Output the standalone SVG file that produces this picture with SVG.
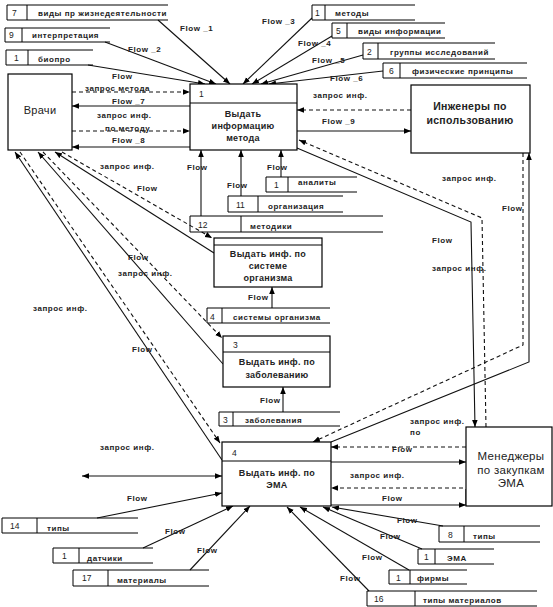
<svg xmlns="http://www.w3.org/2000/svg" width="553" height="607" viewBox="0 0 553 607">
<style>
.box{fill:#fff;stroke:#000;stroke-width:1.2}
.st{fill:none;stroke:#000;stroke-width:1}
.s{fill:none;stroke:#111;stroke-width:1.1}
.d{fill:none;stroke:#111;stroke-width:1.1;stroke-dasharray:4 3}
.t{font-family:"Liberation Sans",Arial,sans-serif;font-size:8px;font-weight:bold;fill:#222;letter-spacing:0.55px}
.n{font-family:"Liberation Sans",Arial,sans-serif;font-size:8.5px;fill:#222}
.p{font-family:"Liberation Sans",Arial,sans-serif;font-size:9px;font-weight:bold;fill:#222;text-anchor:middle;letter-spacing:0.3px}
.e{font-family:"Liberation Sans",Arial,sans-serif;font-size:10.5px;font-weight:bold;fill:#222;text-anchor:middle;letter-spacing:0.3px}
.m{font-family:"Liberation Sans",Arial,sans-serif;font-size:11.5px;fill:#222;text-anchor:middle;letter-spacing:0.3px}
</style>
<defs>
<marker id="a" viewBox="0 0 10 10" refX="10" refY="5" markerWidth="7" markerHeight="7" orient="auto-start-reverse" markerUnits="userSpaceOnUse"><path d="M0,1 L10,5 L0,9 z" fill="#000"/></marker>
</defs>
<rect width="553" height="607" fill="#fff"/>

<g id="connectors">
<line class="s" x1="88" y1="65" x2="205" y2="84" marker-end="url(#a)"/>
<line class="s" x1="105" y1="42" x2="216" y2="84" marker-end="url(#a)"/>
<line class="s" x1="158" y1="20" x2="230" y2="84" marker-end="url(#a)"/>
<line class="s" x1="312" y1="18" x2="243" y2="84" marker-end="url(#a)"/>
<line class="s" x1="332" y1="36" x2="252" y2="84" marker-end="url(#a)"/>
<line class="s" x1="363" y1="55" x2="261" y2="84" marker-end="url(#a)"/>
<line class="s" x1="383" y1="71" x2="269" y2="84" marker-end="url(#a)"/>
<line class="d" x1="72" y1="92" x2="190" y2="92" marker-end="url(#a)"/>
<line class="s" x1="190" y1="106" x2="72" y2="106" marker-end="url(#a)"/>
<line class="d" x1="72" y1="131" x2="190" y2="131" marker-end="url(#a)"/>
<line class="s" x1="190" y1="147" x2="72" y2="147" marker-end="url(#a)"/>
<line class="d" x1="411" y1="110" x2="297" y2="110" marker-end="url(#a)"/>
<line class="s" x1="297" y1="131" x2="411" y2="131" marker-end="url(#a)"/>
<line class="s" x1="201" y1="216" x2="201" y2="150" marker-end="url(#a)"/>
<line class="s" x1="241" y1="196" x2="241" y2="150" marker-end="url(#a)"/>
<line class="s" x1="281" y1="177" x2="281" y2="150" marker-end="url(#a)"/>
<polyline class="s" points="297,148 471,222 475,427" marker-end="url(#a)"/>
<polyline class="d" points="486,427 482,218 299,140" marker-end="url(#a)"/>
<polyline class="s" points="331,442 529,362 529,153" marker-end="url(#a)"/>
<polyline class="d" points="523,153 523,345 313,442" marker-end="url(#a)"/>
<line class="s" x1="272" y1="308" x2="272" y2="287" marker-end="url(#a)"/>
<line class="s" x1="283" y1="412" x2="283" y2="387" marker-end="url(#a)"/>
<line class="s" x1="214" y1="253" x2="55" y2="152" marker-end="url(#a)"/>
<line class="d" x1="62" y1="152" x2="212" y2="238" marker-end="url(#a)"/>
<line class="s" x1="223" y1="364" x2="38" y2="152" marker-end="url(#a)"/>
<line class="d" x1="43" y1="152" x2="222" y2="338" marker-end="url(#a)"/>
<line class="s" x1="222" y1="460" x2="15" y2="152" marker-end="url(#a)"/>
<line class="d" x1="20" y1="152" x2="220" y2="443" marker-end="url(#a)"/>
<line class="s" x1="82" y1="476" x2="222" y2="476" marker-start="url(#a)" marker-end="url(#a)"/>
<line class="d" x1="466" y1="447" x2="331" y2="447" marker-end="url(#a)"/>
<line class="s" x1="331" y1="462" x2="466" y2="462" marker-end="url(#a)"/>
<line class="d" x1="470" y1="488" x2="331" y2="488" marker-end="url(#a)"/>
<line class="s" x1="331" y1="505" x2="466" y2="505" marker-end="url(#a)"/>
<line class="s" x1="466" y1="489" x2="466" y2="505"/>
<line class="s" x1="97" y1="518" x2="222" y2="493" marker-end="url(#a)"/>
<line class="s" x1="143" y1="548" x2="233" y2="506" marker-end="url(#a)"/>
<line class="s" x1="190" y1="570" x2="250" y2="506" marker-end="url(#a)"/>
<line class="s" x1="443" y1="526" x2="332" y2="507" marker-end="url(#a)"/>
<line class="s" x1="422" y1="549" x2="323" y2="507" marker-end="url(#a)"/>
<line class="s" x1="409" y1="570" x2="300" y2="507" marker-end="url(#a)"/>
<line class="s" x1="369" y1="591" x2="287" y2="507" marker-end="url(#a)"/>
</g>

<g id="labels">
<text class="t" x="180" y="31">Flow _1</text>
<text class="t" x="128" y="52">Flow _2</text>
<text class="t" x="112" y="79">Flow</text>
<text class="t" x="262" y="24">Flow _3</text>
<text class="t" x="298" y="46">Flow _4</text>
<text class="t" x="312" y="63">Flow _5</text>
<text class="t" x="330" y="81">Flow _6</text>
<text class="t" x="85" y="91">запрос метода</text>
<text class="t" x="112" y="104">Flow _7</text>
<text class="t" x="97" y="118">запрос инф.</text>
<text class="t" x="105" y="131">по методу</text>
<text class="t" x="112" y="143">Flow _8</text>
<text class="t" x="313" y="98">запрос инф.</text>
<text class="t" x="322" y="124">Flow _9</text>
<text class="t" x="187" y="170">Flow</text>
<text class="t" x="227" y="188">Flow</text>
<text class="t" x="267" y="170">Flow</text>
<text class="t" x="100" y="169">запрос инф.</text>
<text class="t" x="137" y="191">Flow</text>
<text class="t" x="128" y="260">Flow</text>
<text class="t" x="118" y="276">запрос инф.</text>
<text class="t" x="33" y="311">запрос инф.</text>
<text class="t" x="132" y="352">Flow</text>
<text class="t" x="248" y="300">Flow</text>
<text class="t" x="260" y="403">Flow</text>
<text class="t" x="442" y="181">запрос инф.</text>
<text class="t" x="502" y="211">Flow</text>
<text class="t" x="432" y="243">Flow</text>
<text class="t" x="432" y="271">запрос инф.</text>
<text class="t" x="410" y="424">запрос инф.</text>
<text class="t" x="410" y="435">по</text>
<text class="t" x="392" y="452">Flow</text>
<text class="t" x="350" y="478">запрос инф.</text>
<text class="t" x="382" y="501">Flow</text>
<text class="t" x="100" y="450">запрос инф.</text>
<text class="t" x="127" y="501">Flow</text>
<text class="t" x="165" y="534">Flow</text>
<text class="t" x="197" y="553">Flow</text>
<text class="t" x="397" y="523">Flow</text>
<text class="t" x="380" y="539">Flow</text>
<text class="t" x="362" y="560">Flow</text>
<text class="t" x="340" y="581">Flow</text>
</g>

<g id="vrachi"><rect class="box" x="8" y="74" width="64" height="76"/><text class="e" x="40" y="114" style="font-weight:normal;font-size:11px">Врачи</text></g>
<g id="ingenery"><rect class="box" x="411" y="85" width="119" height="68"/><text class="e" x="470" y="110">Инженеры по</text><text class="e" x="470" y="124">использованию</text></g>
<g id="managers"><rect class="box" x="466" y="427" width="86" height="79"/><text class="m" x="511" y="460">Менеджеры</text><text class="m" x="511" y="474">по закупкам</text><text class="m" x="511" y="487">ЭМА</text></g>

<g id="proc1"><rect class="box" x="190" y="84" width="107" height="66"/><line class="st" x1="190" y1="103" x2="297" y2="103"/><text class="n" x="199" y="97">1</text><text class="p" x="243" y="117">Выдать</text><text class="p" x="243" y="129">информацию</text><text class="p" x="243" y="141">метода</text></g>
<g id="proc2"><rect class="box" x="214" y="238" width="108" height="49"/><line class="st" x1="214" y1="245" x2="322" y2="245"/><text class="p" x="268" y="257">Выдать инф. по</text><text class="p" x="268" y="269">системе</text><text class="p" x="268" y="281">организма</text></g>
<g id="proc3"><rect class="box" x="223" y="336" width="107" height="51"/><line class="st" x1="223" y1="352" x2="330" y2="352"/><text class="n" x="233" y="348">3</text><text class="p" x="277" y="365">Выдать инф. по</text><text class="p" x="277" y="378">заболеванию</text></g>
<g id="proc4"><rect class="box" x="222" y="442" width="109" height="64"/><line class="st" x1="222" y1="461" x2="331" y2="461"/><text class="n" x="232" y="456">4</text><text class="p" x="277" y="476">Выдать инф. по</text><text class="p" x="277" y="488">ЭМА</text></g>

<g id="s7"><path class="st" d="M168,5 H7 V20 H168 M27,5 V20"/><text class="n" x="12" y="16">7</text><text class="t" x="38" y="16">виды пр жизнедеятельности</text></g>
<g id="s9"><path class="st" d="M110,28 H5 V42 H110 M22,28 V42"/><text class="n" x="9" y="38">9</text><text class="t" x="32" y="38">интерпретация</text></g>
<g id="s1bio"><path class="st" d="M93,50 H6 V65 H93 M28,50 V65"/><text class="n" x="14" y="61">1</text><text class="t" x="38" y="62">биопро</text></g>
<g id="s1met"><path class="st" d="M415,5 H312 V20 H415 M325,5 V20"/><text class="n" x="315" y="16">1</text><text class="t" x="335" y="16">методы</text></g>
<g id="s5"><path class="st" d="M445,23 H332 V38 H445 M347,23 V38"/><text class="n" x="336" y="34">5</text><text class="t" x="358" y="34">виды информации</text></g>
<g id="s2"><path class="st" d="M495,43 H363 V59 H495 M378,43 V59"/><text class="n" x="367" y="55">2</text><text class="t" x="390" y="55">группы исследований</text></g>
<g id="s6"><path class="st" d="M527,63 H383 V78 H527 M400,63 V78"/><text class="n" x="389" y="74">6</text><text class="t" x="412" y="74">физические принципы</text></g>
<g id="s1an"><path class="st" d="M357,177 H266 V192 H357 M288,177 V192"/><text class="n" x="274" y="188">1</text><text class="t" x="298" y="185">аналиты</text></g>
<g id="s11"><path class="st" d="M343,196 H228 V212 H343 M258,196 V212"/><text class="n" x="236" y="208">11</text><text class="t" x="268" y="209">организация</text></g>
<g id="s12"><path class="st" d="M383,216 H190 V232 H383 M241,216 V232"/><text class="n" x="198" y="228">12</text><text class="t" x="250" y="229">методики</text></g>
<g id="s4"><path class="st" d="M330,308 H207 V323 H330 M222,308 V323"/><text class="n" x="210" y="320">4</text><text class="t" x="233" y="320">системы организма</text></g>
<g id="s3"><path class="st" d="M340,412 H219 V426 H340 M233,412 V426"/><text class="n" x="223" y="423">3</text><text class="t" x="245" y="423">заболевания</text></g>
<g id="s14"><path class="st" d="M138,518 H2 V533 H138 M37,518 V533"/><text class="n" x="10" y="529">14</text><text class="t" x="47" y="531">типы</text></g>
<g id="s1dat"><path class="st" d="M153,548 H53 V563 H153 M79,548 V563"/><text class="n" x="62" y="559">1</text><text class="t" x="87" y="561">датчики</text></g>
<g id="s17"><path class="st" d="M209,570 H73 V586 H209 M108,570 V586"/><text class="n" x="82" y="581">17</text><text class="t" x="117" y="583">материалы</text></g>
<g id="s8"><path class="st" d="M540,526 H439 V542 H540 M464,526 V542"/><text class="n" x="448" y="538">8</text><text class="t" x="473" y="539">типы</text></g>
<g id="s1ema"><path class="st" d="M494,549 H418 V564 H494 M435,549 V564"/><text class="n" x="424" y="560">1</text><text class="t" x="447" y="561">ЭМА</text></g>
<g id="s1fir"><path class="st" d="M467,570 H389 V584 H467 M410,570 V584"/><text class="n" x="396" y="581">1</text><text class="t" x="417" y="581">фирмы</text></g>
<g id="s16"><path class="st" d="M537,591 H367 V606 H537 M415,591 V606"/><text class="n" x="374" y="602">16</text><text class="t" x="423" y="603">типы материалов</text></g>
</svg>
